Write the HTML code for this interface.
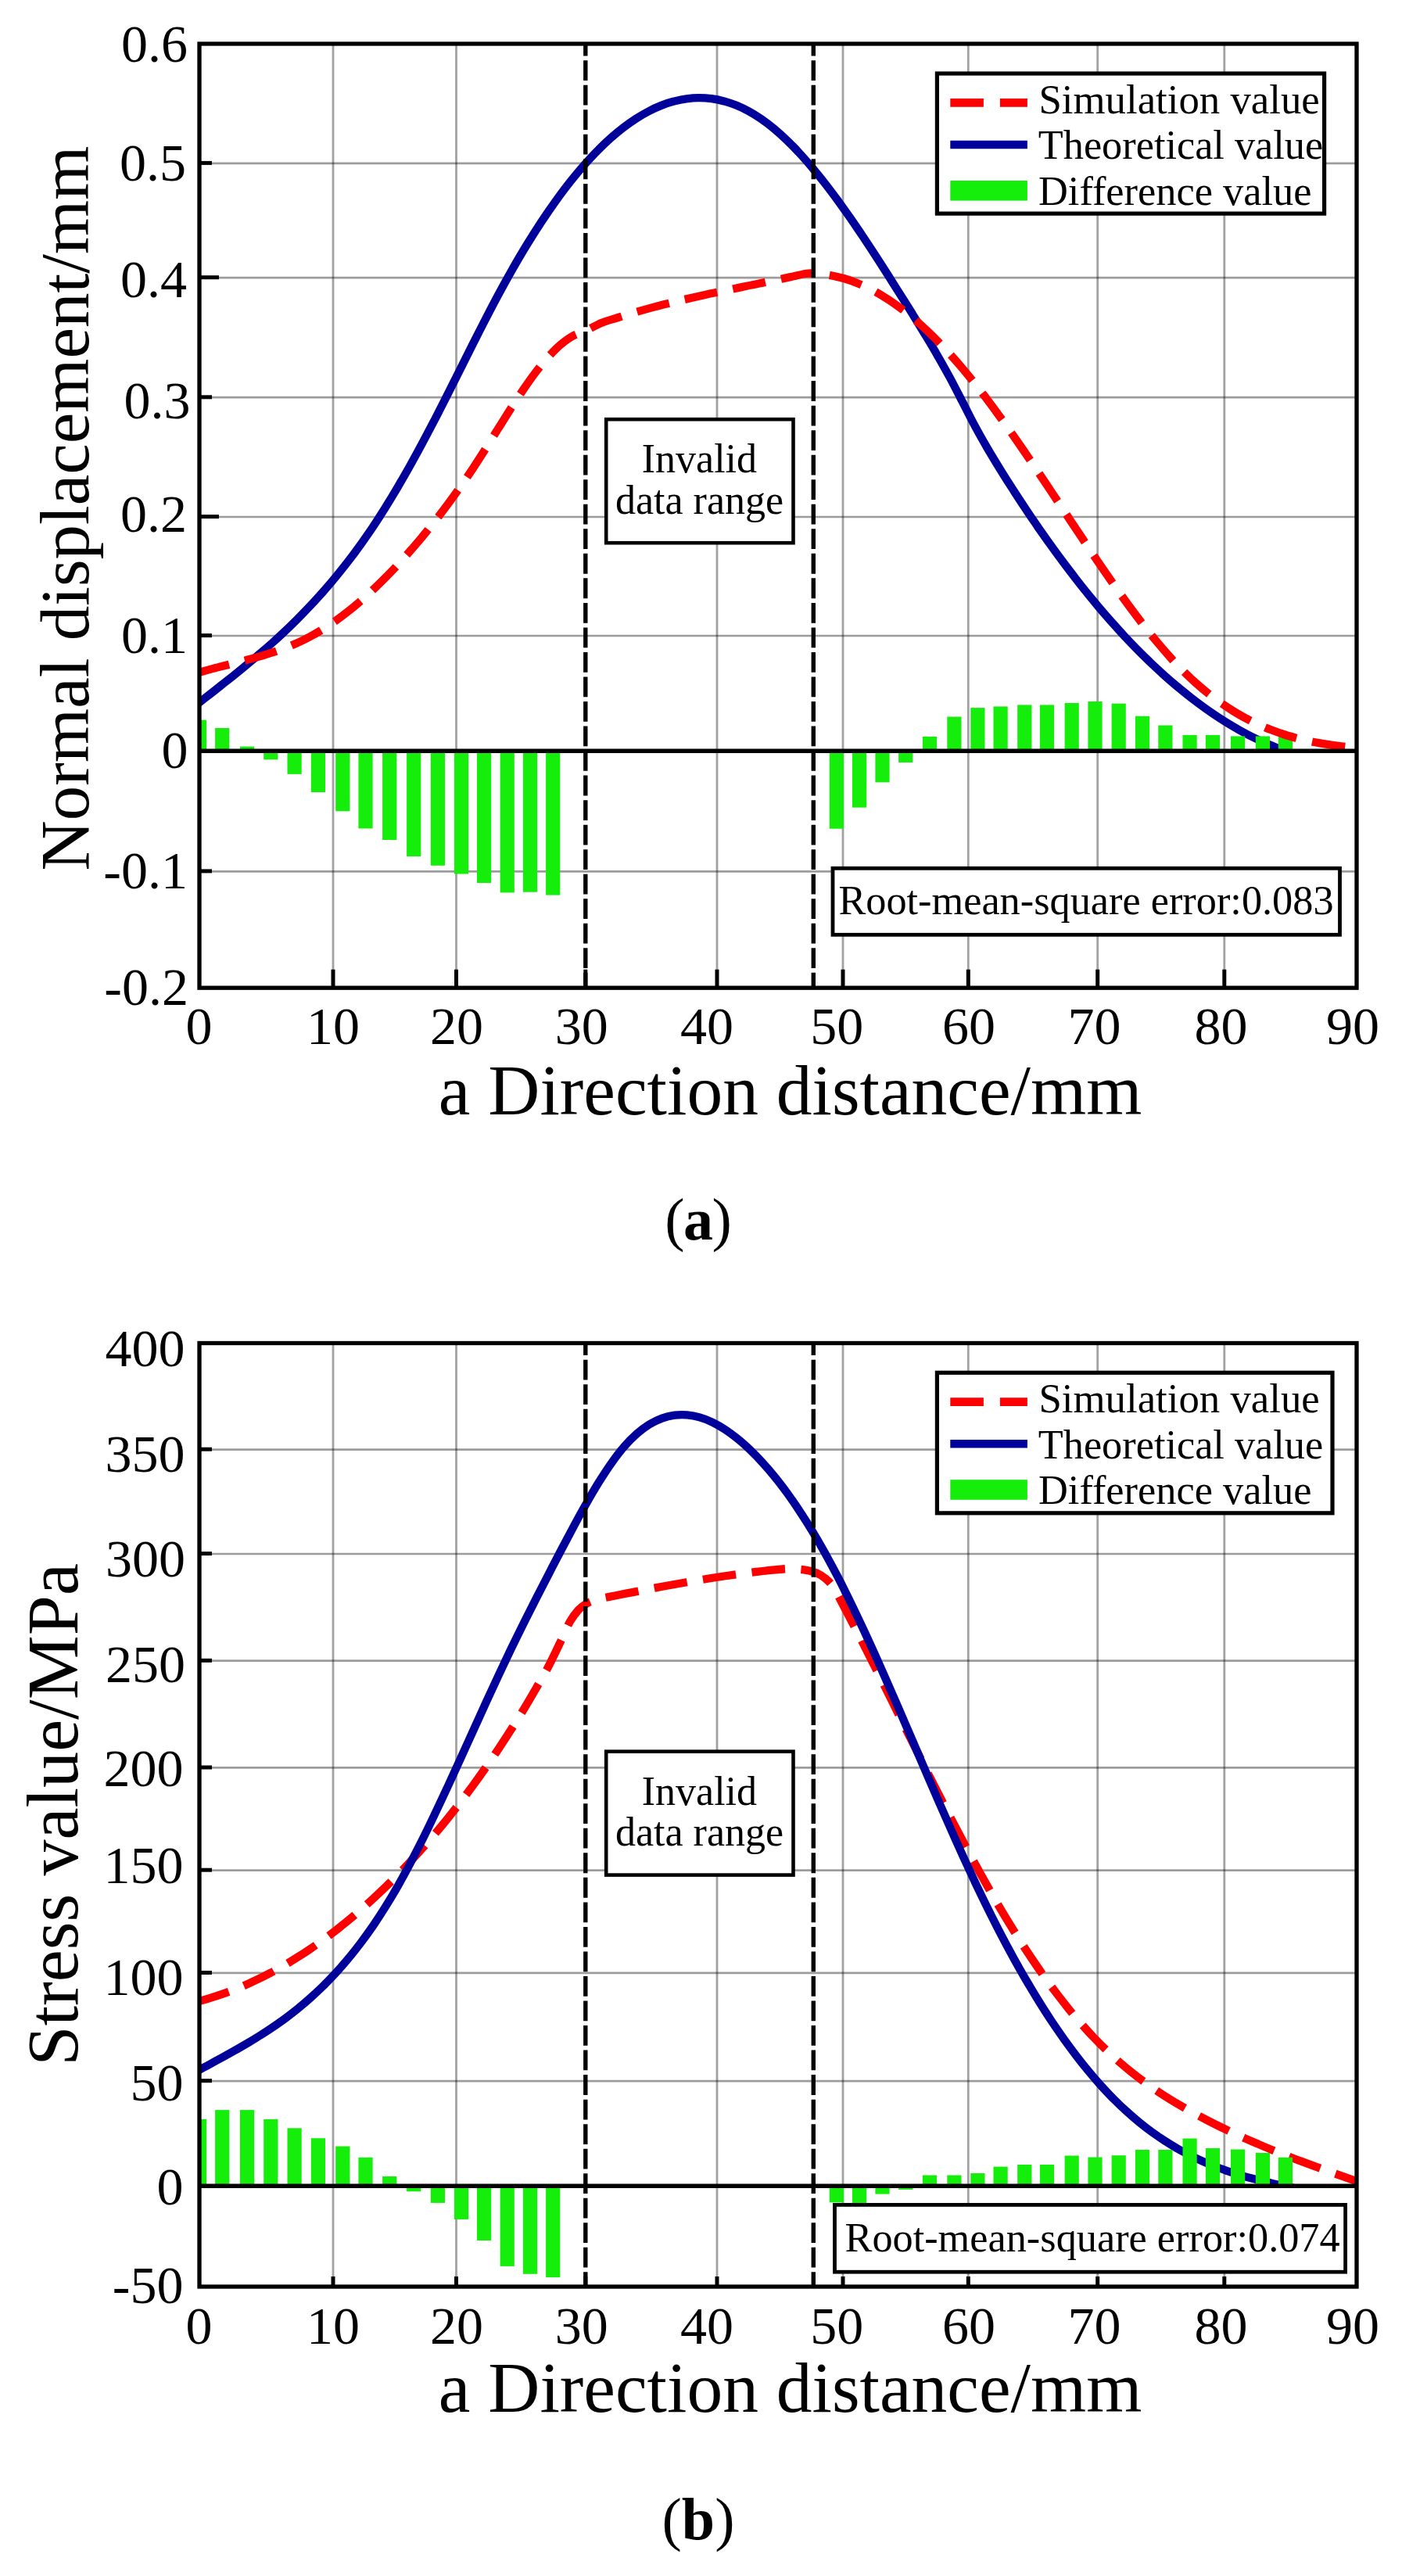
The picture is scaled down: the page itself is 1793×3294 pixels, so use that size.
<!DOCTYPE html>
<html lang="en"><head><meta charset="utf-8"><title>Figure</title>
<style>html,body{margin:0;padding:0;background:#fff}body{width:1793px;height:3294px;overflow:hidden}svg{display:block}text{font-family:'Liberation Serif', serif;fill:#000}</style></head><body>
<svg width="1793" height="3294" viewBox="0 0 1793 3294">
<rect width="1793" height="3294" fill="#fff"/>
<g id="chart1">
<clipPath id="clip0"><rect x="255.0" y="56.0" width="1480.0" height="1207.2"/></clipPath>
<clipPath id="clipb0"><rect x="255.0" y="56.0" width="1480.0" height="904.3"/></clipPath>
<g stroke="#000" stroke-opacity="0.37" stroke-width="2.8" fill="none">
<line x1="426.0" y1="56.0" x2="426.0" y2="1263.2"/>
<line x1="583.5" y1="56.0" x2="583.5" y2="1263.2"/>
<line x1="917.0" y1="56.0" x2="917.0" y2="1263.2"/>
<line x1="1078.0" y1="56.0" x2="1078.0" y2="1263.2"/>
<line x1="1238.3" y1="56.0" x2="1238.3" y2="1263.2"/>
<line x1="1403.7" y1="56.0" x2="1403.7" y2="1263.2"/>
<line x1="1565.8" y1="56.0" x2="1565.8" y2="1263.2"/>
</g><g stroke="#000" stroke-opacity="0.39" stroke-width="2.7" fill="none">
<line x1="255.0" y1="208.8" x2="1735.0" y2="208.8"/>
<line x1="255.0" y1="355.1" x2="1735.0" y2="355.1"/>
<line x1="255.0" y1="508.2" x2="1735.0" y2="508.2"/>
<line x1="255.0" y1="661.0" x2="1735.0" y2="661.0"/>
<line x1="255.0" y1="813.0" x2="1735.0" y2="813.0"/>
<line x1="255.0" y1="1114.3" x2="1735.0" y2="1114.3"/>
</g>
<g clip-path="url(#clip0)" fill="none">
<path d="M252.0 900.6 C254.7 898.5 262.7 892.2 268.0 888.1 C273.4 883.9 278.7 879.7 284.1 875.4 C289.4 871.2 294.8 867.0 300.1 862.7 C305.5 858.3 310.8 854.0 316.2 849.6 C321.5 845.1 326.9 840.6 332.2 836.0 C337.6 831.4 342.9 826.8 348.3 822.0 C353.6 817.2 359.0 812.3 364.3 807.2 C369.7 802.2 375.0 797.0 380.4 791.6 C385.7 786.3 391.1 780.8 396.4 775.1 C401.8 769.4 407.1 763.6 412.5 757.5 C417.8 751.5 423.2 745.3 428.5 738.8 C433.9 732.3 439.2 725.6 444.6 718.7 C449.9 711.8 455.3 704.6 460.6 697.2 C466.0 689.7 471.3 682.0 476.7 674.1 C482.0 666.1 487.3 657.8 492.7 649.2 C498.0 640.7 503.4 631.8 508.7 622.8 C514.1 613.7 519.4 604.3 524.8 594.8 C530.1 585.2 535.5 575.4 540.8 565.4 C546.2 555.4 551.5 545.2 556.9 534.9 C562.2 524.6 567.6 514.0 572.9 503.4 C578.3 492.8 583.6 482.1 589.0 471.4 C594.3 460.8 599.7 450.0 605.0 439.4 C610.4 428.8 615.7 418.2 621.1 407.9 C626.4 397.5 631.8 387.2 637.1 377.3 C642.5 367.3 647.8 357.5 653.2 348.1 C658.5 338.6 663.9 329.4 669.2 320.5 C674.6 311.6 679.9 303.0 685.3 294.6 C690.6 286.3 696.0 278.2 701.3 270.5 C706.7 262.7 712.0 255.2 717.3 248.0 C722.7 240.8 728.0 233.9 733.4 227.3 C738.7 220.7 744.1 214.4 749.4 208.4 C754.8 202.4 760.1 196.7 765.5 191.4 C770.8 186.0 776.2 180.9 781.5 176.2 C786.9 171.4 792.2 167.0 797.6 162.9 C802.9 158.8 808.3 155.0 813.6 151.6 C819.0 148.1 824.3 145.0 829.7 142.2 C835.0 139.4 840.4 137.0 845.7 134.9 C851.1 132.8 856.4 131.0 861.8 129.6 C867.1 128.1 872.5 127.0 877.8 126.3 C883.2 125.6 888.5 125.2 893.9 125.2 C899.2 125.2 904.6 125.5 909.9 126.2 C915.3 126.9 920.6 128.0 926.0 129.4 C931.3 130.9 936.7 132.7 942.0 134.8 C947.3 137.0 952.7 139.6 958.0 142.5 C963.4 145.4 968.7 148.8 974.1 152.5 C979.4 156.2 984.8 160.3 990.1 164.7 C995.5 169.2 1000.8 174.0 1006.2 179.2 C1011.5 184.3 1016.9 189.8 1022.2 195.6 C1027.6 201.4 1032.9 207.5 1038.3 213.8 C1043.6 220.2 1049.0 226.8 1054.3 233.6 C1059.7 240.5 1065.0 247.6 1070.4 254.9 C1075.7 262.2 1081.1 269.7 1086.4 277.3 C1091.8 285.0 1097.1 292.9 1102.5 300.8 C1107.8 308.8 1113.2 316.9 1118.5 325.1 C1123.9 333.4 1129.2 341.7 1134.6 350.1 C1139.9 358.5 1145.3 367.0 1150.6 375.5 C1156.0 384.0 1161.3 392.5 1166.7 401.1 C1172.0 409.7 1177.3 418.3 1182.7 427.2 C1188.0 436.0 1193.4 444.9 1198.7 454.2 C1204.1 463.5 1209.4 473.0 1214.8 482.9 C1220.1 492.8 1225.5 503.4 1230.8 513.7 C1236.2 524.1 1241.5 534.9 1246.9 544.9 C1252.2 554.8 1257.6 564.2 1262.9 573.4 C1268.3 582.6 1273.6 591.3 1279.0 599.9 C1284.3 608.6 1289.7 617.0 1295.0 625.3 C1300.4 633.6 1305.7 641.8 1311.1 649.8 C1316.4 657.9 1321.8 665.7 1327.1 673.5 C1332.5 681.2 1337.8 688.8 1343.2 696.3 C1348.5 703.8 1353.9 711.1 1359.2 718.2 C1364.6 725.4 1369.9 732.4 1375.3 739.3 C1380.6 746.2 1386.0 752.9 1391.3 759.5 C1396.7 766.1 1402.0 772.6 1407.3 778.9 C1412.7 785.2 1418.0 791.3 1423.4 797.3 C1428.7 803.3 1434.1 809.2 1439.4 814.9 C1444.8 820.6 1450.1 826.2 1455.5 831.6 C1460.8 837.0 1466.2 842.2 1471.5 847.4 C1476.9 852.5 1482.2 857.5 1487.6 862.3 C1492.9 867.1 1498.3 871.8 1503.6 876.3 C1509.0 880.8 1514.3 885.2 1519.7 889.4 C1525.0 893.6 1530.4 897.7 1535.7 901.6 C1541.1 905.6 1546.4 909.3 1551.8 913.0 C1557.1 916.6 1562.5 920.1 1567.8 923.4 C1573.2 926.7 1578.5 929.9 1583.9 932.9 C1589.2 935.9 1594.6 938.8 1599.9 941.5 C1605.3 944.2 1610.6 946.7 1616.0 949.1 C1621.3 951.5 1626.3 953.0 1632.0 955.9 C1637.7 958.8 1647.0 964.7 1650.0 966.5" stroke="#00009b" stroke-width="10.3" clip-path="url(#clipb0)"/>
<g fill="#14ee0a"><rect x="245.9" y="920.7" width="18.2" height="39.6"/><rect x="275.1" y="931.0" width="18.2" height="29.3"/><rect x="306.9" y="954.6" width="18.2" height="5.7"/><rect x="337.2" y="960.3" width="18.2" height="11.0"/><rect x="367.5" y="960.3" width="18.2" height="29.6"/><rect x="397.8" y="960.3" width="18.2" height="52.7"/><rect x="429.2" y="960.3" width="18.2" height="77.0"/><rect x="458.4" y="960.3" width="18.2" height="99.1"/><rect x="489.1" y="960.3" width="18.2" height="113.7"/><rect x="520.1" y="960.3" width="18.2" height="134.8"/><rect x="550.8" y="960.3" width="18.2" height="146.5"/><rect x="580.9" y="960.3" width="18.2" height="157.2"/><rect x="610.0" y="960.3" width="18.2" height="168.7"/><rect x="639.6" y="960.3" width="18.2" height="181.1"/><rect x="668.9" y="960.3" width="18.2" height="180.4"/><rect x="698.1" y="960.3" width="18.2" height="184.3"/><rect x="1060.8" y="960.3" width="18.2" height="99.4"/><rect x="1090.0" y="960.3" width="18.2" height="72.3"/><rect x="1119.4" y="960.3" width="18.2" height="40.1"/><rect x="1149.1" y="960.3" width="18.2" height="14.7"/><rect x="1179.9" y="941.9" width="18.2" height="18.4"/><rect x="1211.3" y="916.5" width="18.2" height="43.8"/><rect x="1241.3" y="905.1" width="18.2" height="55.2"/><rect x="1270.5" y="903.4" width="18.2" height="56.9"/><rect x="1301.2" y="901.4" width="18.2" height="58.9"/><rect x="1329.9" y="901.4" width="18.2" height="58.9"/><rect x="1361.6" y="899.0" width="18.2" height="61.3"/><rect x="1391.4" y="897.0" width="18.2" height="63.3"/><rect x="1421.6" y="899.6" width="18.2" height="60.7"/><rect x="1451.9" y="915.7" width="18.2" height="44.6"/><rect x="1481.3" y="927.5" width="18.2" height="32.8"/><rect x="1512.5" y="939.9" width="18.2" height="20.4"/><rect x="1541.9" y="939.9" width="18.2" height="20.4"/><rect x="1574.0" y="941.4" width="18.2" height="18.9"/><rect x="1605.8" y="941.4" width="18.2" height="18.9"/><rect x="1634.8" y="939.9" width="18.2" height="20.4"/></g>
<path d="M252.0 860.6 C254.7 859.9 262.7 857.6 268.0 856.1 C273.4 854.7 278.7 853.3 284.1 852.0 C289.4 850.6 294.7 849.3 300.1 847.9 C305.4 846.6 310.8 845.2 316.1 843.8 C321.4 842.4 326.8 840.9 332.1 839.4 C337.5 837.8 342.8 836.2 348.2 834.4 C353.5 832.6 358.8 830.8 364.2 828.7 C369.5 826.7 374.9 824.5 380.2 822.1 C385.5 819.7 390.9 817.1 396.2 814.2 C401.6 811.4 406.9 808.3 412.3 805.0 C417.6 801.7 422.9 798.2 428.3 794.5 C433.6 790.7 439.0 786.7 444.3 782.5 C449.7 778.3 455.0 773.9 460.3 769.3 C465.7 764.7 471.0 759.9 476.4 754.8 C481.7 749.8 487.0 744.6 492.4 739.2 C497.7 733.8 503.1 728.2 508.4 722.5 C513.8 716.7 519.1 710.8 524.4 704.7 C529.8 698.6 535.1 692.3 540.5 685.9 C545.8 679.4 551.1 672.8 556.5 666.0 C561.8 659.2 567.2 652.2 572.5 645.0 C577.9 637.8 583.2 630.4 588.5 622.8 C593.9 615.2 599.2 607.3 604.6 599.3 C609.9 591.2 615.3 582.9 620.6 574.5 C625.9 566.1 631.3 557.4 636.6 548.9 C642.0 540.4 647.3 531.8 652.6 523.4 C658.0 515.1 663.3 506.8 668.7 499.0 C674.0 491.2 679.4 483.5 684.7 476.5 C690.0 469.5 695.4 462.8 700.7 456.9 C706.1 451.0 711.4 445.5 716.7 440.9 C722.1 436.4 727.4 432.4 732.8 429.5 C738.1 426.5 746.1 424.3 748.8 423.3 C752.1 421.6 762.2 415.9 768.9 413.1 C775.6 410.3 782.3 408.6 789.0 406.5 C795.7 404.3 802.4 402.3 809.1 400.3 C815.8 398.3 822.4 396.5 829.1 394.6 C835.8 392.8 842.5 391.0 849.2 389.3 C855.9 387.6 862.6 386.0 869.3 384.4 C876.0 382.8 882.7 381.3 889.4 379.8 C896.1 378.2 902.8 376.8 909.5 375.3 C916.2 373.9 922.9 372.5 929.6 371.1 C936.3 369.7 943.0 368.3 949.7 366.9 C956.4 365.5 963.0 364.1 969.7 362.8 C976.4 361.4 983.1 360.0 989.8 358.6 C996.5 357.2 1003.2 355.8 1009.9 354.4 C1016.6 353.0 1024.9 350.8 1030.0 350.0 C1035.1 349.2 1037.0 349.5 1040.5 349.6 C1044.0 349.7 1047.1 349.9 1051.0 350.4 C1054.9 350.9 1059.2 351.6 1064.0 352.5 C1068.8 353.5 1074.7 354.8 1080.0 356.3 C1085.4 357.9 1090.7 359.7 1096.1 361.9 C1101.4 364.0 1106.8 366.4 1112.1 369.1 C1117.5 371.8 1122.8 374.8 1128.2 378.1 C1133.5 381.3 1138.9 384.8 1144.2 388.6 C1149.6 392.4 1154.9 396.4 1160.3 400.7 C1165.6 405.0 1171.0 409.5 1176.3 414.3 C1181.7 419.1 1187.0 424.1 1192.4 429.4 C1197.7 434.6 1203.1 440.1 1208.4 445.8 C1213.8 451.6 1219.1 457.5 1224.5 463.7 C1229.8 469.8 1235.2 476.2 1240.5 482.8 C1245.9 489.4 1251.2 496.2 1256.6 503.1 C1261.9 510.1 1267.3 517.2 1272.6 524.5 C1278.0 531.8 1283.3 539.2 1288.7 546.8 C1294.0 554.3 1299.4 562.0 1304.7 569.7 C1310.1 577.5 1315.4 585.3 1320.8 593.3 C1326.1 601.2 1331.5 609.2 1336.8 617.2 C1342.2 625.2 1347.5 633.3 1352.9 641.3 C1358.2 649.4 1363.6 657.5 1368.9 665.6 C1374.3 673.6 1379.6 681.7 1385.0 689.7 C1390.3 697.7 1395.7 705.7 1401.0 713.6 C1406.4 721.5 1411.7 729.3 1417.1 737.0 C1422.4 744.8 1427.8 752.4 1433.1 759.9 C1438.5 767.4 1443.8 774.7 1449.2 781.9 C1454.5 789.1 1459.9 796.1 1465.2 802.9 C1470.6 809.8 1475.9 816.4 1481.3 822.8 C1486.6 829.2 1492.0 835.4 1497.3 841.3 C1502.7 847.2 1508.0 852.8 1513.4 858.2 C1518.7 863.6 1524.1 868.6 1529.4 873.4 C1534.8 878.2 1540.1 882.7 1545.5 887.0 C1550.8 891.2 1556.2 895.2 1561.5 899.0 C1566.9 902.7 1572.2 906.2 1577.6 909.5 C1582.9 912.8 1588.3 915.8 1593.6 918.7 C1599.0 921.5 1604.3 924.2 1609.7 926.6 C1615.0 929.0 1620.4 931.3 1625.7 933.3 C1631.1 935.4 1636.4 937.3 1641.8 939.0 C1647.1 940.8 1652.5 942.3 1657.8 943.8 C1663.2 945.2 1668.5 946.5 1673.9 947.6 C1679.2 948.8 1684.6 949.8 1689.9 950.7 C1695.3 951.7 1700.6 952.5 1706.0 953.2 C1711.3 953.9 1719.3 954.7 1722.0 955.1" stroke="#ff0000" stroke-width="10.3" stroke-dasharray="42.5 20.5"/>
</g>
<line x1="255.0" y1="960.3" x2="1735.0" y2="960.3" stroke="#000" stroke-width="5.5"/>
<line x1="748.8" y1="56.0" x2="748.8" y2="1263.2" stroke="#000" stroke-width="5.4" stroke-dasharray="25.8 5.73" stroke-dashoffset="10.3"/>
<line x1="1040.3" y1="56.0" x2="1040.3" y2="1263.2" stroke="#000" stroke-width="5.4" stroke-dasharray="25.8 5.73" stroke-dashoffset="10.3"/>
<g stroke="#000" stroke-width="5">
<line x1="426.0" y1="1263.2" x2="426.0" y2="1239.7"/>
<line x1="583.5" y1="1263.2" x2="583.5" y2="1239.7"/>
<line x1="748.8" y1="1263.2" x2="748.8" y2="1239.7"/>
<line x1="917.0" y1="1263.2" x2="917.0" y2="1239.7"/>
<line x1="1078.0" y1="1263.2" x2="1078.0" y2="1239.7"/>
<line x1="1238.3" y1="1263.2" x2="1238.3" y2="1239.7"/>
<line x1="1403.7" y1="1263.2" x2="1403.7" y2="1239.7"/>
<line x1="1565.8" y1="1263.2" x2="1565.8" y2="1239.7"/>
<line x1="255.0" y1="208.4" x2="271.0" y2="208.4"/>
<line x1="255.0" y1="354.7" x2="280.0" y2="354.7"/>
<line x1="255.0" y1="507.8" x2="271.0" y2="507.8"/>
<line x1="255.0" y1="660.6" x2="280.0" y2="660.6"/>
<line x1="255.0" y1="812.6" x2="271.0" y2="812.6"/>
<line x1="255.0" y1="1113.9" x2="271.0" y2="1113.9"/>
</g>
<rect x="255.0" y="56.0" width="1480.0" height="1207.2" fill="none" stroke="#000" stroke-width="5.3"/>
<rect x="1198.4" y="94.0" width="495.2" height="179.1" fill="#fff" stroke="#000" stroke-width="5.2"/>
<line x1="1215.3" y1="131.4" x2="1313.9" y2="131.4" stroke="#ff0000" stroke-width="10.8" stroke-dasharray="42.6 21"/>
<line x1="1215.3" y1="185.1" x2="1313.9" y2="185.1" stroke="#00009b" stroke-width="10.5"/>
<rect x="1215.3" y="231.0" width="98.6" height="25.6" fill="#14ee0a"/>
<text x="1328.5" y="144.6" font-size="52.8">Simulation value</text>
<text x="1327.8" y="203.3" font-size="52.3">Theoretical value</text>
<text x="1328" y="262.2" font-size="52.4">Difference value</text>
<rect x="775.2" y="536.2" width="239.3" height="158.0" fill="#fff" stroke="#000" stroke-width="4.6"/>
<g font-size="52" text-anchor="middle"><text x="894.4" y="604.4">Invalid</text><text x="894.5" y="656.7">data range</text></g>
<rect x="1065.0" y="1110.3" width="648.5" height="85.0" fill="#fff" stroke="#000" stroke-width="4.8"/>
<text x="1072.4" y="1168.8" font-size="52.3">Root-mean-square error:0.083</text>
<g font-size="68">
<g text-anchor="end">
<text x="240.0" y="79.0">0.6</text>
<text x="238.0" y="231.3">0.5</text>
<text x="239.0" y="379.5">0.4</text>
<text x="243.5" y="535.0">0.3</text>
<text x="239.0" y="679.5">0.2</text>
<text x="240.0" y="834.5">0.1</text>
<text x="240.5" y="982.3">0</text>
<text x="240.0" y="1136.0">-0.1</text>
<text x="241.0" y="1285.3">-0.2</text>
</g><g text-anchor="middle">
<text x="254.5" y="1334.6">0</text>
<text x="426.1" y="1334.6">10</text>
<text x="584.0" y="1334.6">20</text>
<text x="743.8" y="1334.6">30</text>
<text x="904.0" y="1334.6">40</text>
<text x="1070.3" y="1334.6">50</text>
<text x="1238.9" y="1334.6">60</text>
<text x="1399.5" y="1334.6">70</text>
<text x="1561.5" y="1334.6">80</text>
<text x="1730.0" y="1334.6">90</text>
</g></g>
<text transform="translate(113.0 650.0) rotate(-90)" text-anchor="middle" font-size="89.0">Normal displacement/mm</text>
<text x="1010.6" y="1424.8" text-anchor="middle" font-size="91.5">a Direction distance/mm</text>
<text x="893.0" y="1584.5" text-anchor="middle" font-size="76">(<tspan font-weight="bold" dx="-1.6">a</tspan><tspan dx="-1.6">)</tspan></text>
</g>
<g id="chart2">
<clipPath id="clip1"><rect x="255.0" y="1717.5" width="1480.0" height="1206.5"/></clipPath>
<clipPath id="clipb1"><rect x="255.0" y="1717.5" width="1480.0" height="1077.7"/></clipPath>
<g stroke="#000" stroke-opacity="0.37" stroke-width="2.8" fill="none">
<line x1="426.0" y1="1717.5" x2="426.0" y2="2924.0"/>
<line x1="583.5" y1="1717.5" x2="583.5" y2="2924.0"/>
<line x1="917.0" y1="1717.5" x2="917.0" y2="2924.0"/>
<line x1="1078.0" y1="1717.5" x2="1078.0" y2="2924.0"/>
<line x1="1238.3" y1="1717.5" x2="1238.3" y2="2924.0"/>
<line x1="1403.7" y1="1717.5" x2="1403.7" y2="2924.0"/>
<line x1="1565.8" y1="1717.5" x2="1565.8" y2="2924.0"/>
</g><g stroke="#000" stroke-opacity="0.39" stroke-width="2.7" fill="none">
<line x1="255.0" y1="1853.6" x2="1735.0" y2="1853.6"/>
<line x1="255.0" y1="1987.0" x2="1735.0" y2="1987.0"/>
<line x1="255.0" y1="2123.7" x2="1735.0" y2="2123.7"/>
<line x1="255.0" y1="2260.4" x2="1735.0" y2="2260.4"/>
<line x1="255.0" y1="2391.6" x2="1735.0" y2="2391.6"/>
<line x1="255.0" y1="2522.9" x2="1735.0" y2="2522.9"/>
<line x1="255.0" y1="2661.1" x2="1735.0" y2="2661.1"/>
</g>
<g clip-path="url(#clip1)" fill="none">
<path d="M252.0 2559.6 C254.7 2558.9 262.7 2556.8 268.1 2555.1 C273.4 2553.5 278.8 2551.8 284.2 2549.9 C289.5 2548.0 294.9 2546.0 300.2 2543.9 C305.6 2541.8 311.0 2539.5 316.3 2537.2 C321.7 2534.8 327.0 2532.3 332.4 2529.7 C337.8 2527.1 343.1 2524.3 348.5 2521.5 C353.8 2518.6 359.2 2515.6 364.6 2512.5 C369.9 2509.4 375.3 2506.1 380.6 2502.7 C386.0 2499.4 391.4 2495.9 396.7 2492.2 C402.1 2488.6 407.4 2484.8 412.8 2481.0 C418.2 2477.1 423.5 2473.0 428.9 2468.9 C434.2 2464.7 439.6 2460.5 445.0 2456.1 C450.3 2451.6 455.7 2447.1 461.0 2442.4 C466.4 2437.8 471.8 2432.9 477.1 2428.0 C482.5 2423.1 487.8 2418.0 493.2 2412.8 C498.5 2407.6 503.9 2402.3 509.3 2396.8 C514.6 2391.3 520.0 2385.7 525.3 2379.9 C530.7 2374.1 536.1 2368.2 541.4 2362.2 C546.8 2356.1 552.1 2349.9 557.5 2343.5 C562.9 2337.2 568.2 2330.7 573.6 2324.0 C578.9 2317.3 584.3 2310.5 589.7 2303.4 C595.0 2296.4 600.4 2289.3 605.7 2281.9 C611.1 2274.6 616.5 2267.1 621.8 2259.4 C627.2 2251.7 632.5 2243.9 637.9 2235.8 C643.3 2227.8 648.6 2219.6 654.0 2211.1 C659.3 2202.7 664.7 2194.1 670.1 2185.3 C675.4 2176.4 680.8 2167.3 686.1 2158.0 C691.5 2148.7 696.9 2139.7 702.2 2129.4 C707.6 2119.1 713.8 2105.6 718.3 2096.3 C722.8 2087.0 725.4 2079.8 729.0 2073.5 C732.6 2067.2 736.4 2062.5 739.7 2058.8 C743.0 2055.1 745.8 2053.3 748.7 2051.4 C751.6 2049.5 753.8 2048.5 757.0 2047.3 C760.2 2046.1 762.9 2045.4 768.0 2044.2 C773.1 2043.0 781.2 2041.6 787.7 2040.3 C794.3 2038.9 800.9 2037.6 807.5 2036.4 C814.1 2035.1 820.6 2033.8 827.2 2032.5 C833.8 2031.3 840.4 2030.0 847.0 2028.8 C853.5 2027.6 860.1 2026.4 866.7 2025.2 C873.3 2024.1 879.9 2022.9 886.5 2021.8 C893.0 2020.7 899.6 2019.6 906.2 2018.5 C912.8 2017.5 919.4 2016.5 925.9 2015.5 C932.5 2014.5 939.1 2013.6 945.7 2012.7 C952.3 2011.8 958.8 2011.0 965.4 2010.2 C972.0 2009.4 978.6 2008.5 985.2 2007.9 C991.7 2007.2 999.6 2006.5 1004.9 2006.2 C1010.2 2005.9 1013.1 2006.1 1017.0 2006.3 C1020.9 2006.5 1024.5 2006.7 1028.4 2007.3 C1032.3 2007.9 1036.6 2008.8 1040.2 2010.0 C1043.8 2011.2 1046.4 2012.1 1049.8 2014.3 C1053.2 2016.5 1057.5 2019.8 1060.5 2022.9 C1063.5 2026.0 1065.4 2028.8 1068.0 2033.0 C1070.6 2037.2 1072.0 2040.5 1076.0 2048.1 C1080.0 2055.7 1086.8 2068.5 1092.1 2078.9 C1097.5 2089.3 1102.9 2099.8 1108.3 2110.4 C1113.7 2121.0 1119.1 2131.7 1124.4 2142.4 C1129.8 2153.1 1135.2 2164.0 1140.6 2174.8 C1146.0 2185.6 1151.3 2196.5 1156.7 2207.3 C1162.1 2218.1 1167.5 2229.0 1172.9 2239.8 C1178.3 2250.6 1183.6 2261.4 1189.0 2272.1 C1194.4 2282.8 1199.8 2293.4 1205.2 2303.9 C1210.6 2314.5 1215.9 2324.9 1221.3 2335.2 C1226.7 2345.5 1232.1 2355.8 1237.5 2365.8 C1242.8 2375.8 1248.2 2385.8 1253.6 2395.5 C1259.0 2405.2 1264.4 2414.8 1269.8 2424.1 C1275.1 2433.5 1280.5 2442.6 1285.9 2451.6 C1291.3 2460.5 1296.7 2469.2 1302.0 2477.7 C1307.4 2486.2 1312.8 2494.5 1318.2 2502.5 C1323.6 2510.6 1329.0 2518.4 1334.3 2526.0 C1339.7 2533.6 1345.1 2540.9 1350.5 2548.0 C1355.9 2555.1 1361.3 2562.0 1366.6 2568.7 C1372.0 2575.3 1377.4 2581.7 1382.8 2587.8 C1388.2 2594.0 1393.5 2599.9 1398.9 2605.5 C1404.3 2611.2 1409.7 2616.6 1415.1 2621.7 C1420.5 2626.9 1425.8 2631.8 1431.2 2636.5 C1436.6 2641.2 1442.0 2645.7 1447.4 2650.0 C1452.7 2654.3 1458.1 2658.4 1463.5 2662.3 C1468.9 2666.3 1474.3 2670.0 1479.7 2673.7 C1485.0 2677.3 1490.4 2680.8 1495.8 2684.1 C1501.2 2687.5 1506.6 2690.7 1512.0 2693.8 C1517.3 2696.9 1522.7 2699.9 1528.1 2702.8 C1533.5 2705.8 1538.9 2708.6 1544.2 2711.4 C1549.6 2714.2 1555.0 2716.9 1560.4 2719.5 C1565.8 2722.1 1571.2 2724.7 1576.5 2727.2 C1581.9 2729.7 1587.3 2732.2 1592.7 2734.6 C1598.1 2737.0 1603.4 2739.3 1608.8 2741.6 C1614.2 2743.9 1619.6 2746.2 1625.0 2748.4 C1630.4 2750.6 1635.7 2752.8 1641.1 2754.9 C1646.5 2757.0 1651.9 2759.1 1657.3 2761.2 C1662.7 2763.2 1668.0 2765.2 1673.4 2767.2 C1678.8 2769.2 1684.2 2771.2 1689.6 2773.1 C1694.9 2775.1 1700.3 2777.0 1705.7 2778.9 C1711.1 2780.8 1716.5 2782.7 1721.9 2784.6 C1727.2 2786.5 1735.3 2789.3 1738.0 2790.2" stroke="#ff0000" stroke-width="10.3" stroke-dasharray="42.6 20.6"/>
<path d="M252.0 2648.4 C254.7 2647.0 262.7 2642.6 268.1 2639.7 C273.4 2636.8 278.8 2633.9 284.1 2631.0 C289.5 2628.1 294.9 2625.1 300.2 2622.1 C305.6 2619.1 310.9 2616.0 316.3 2612.8 C321.6 2609.6 327.0 2606.4 332.3 2603.0 C337.7 2599.6 343.1 2596.2 348.4 2592.5 C353.8 2588.9 359.1 2585.1 364.5 2581.2 C369.8 2577.2 375.2 2573.1 380.6 2568.7 C385.9 2564.4 391.3 2559.9 396.6 2555.1 C402.0 2550.3 407.3 2545.4 412.7 2540.1 C418.1 2534.8 423.4 2529.3 428.8 2523.5 C434.1 2517.7 439.5 2511.6 444.8 2505.2 C450.2 2498.8 455.6 2492.1 460.9 2485.0 C466.3 2477.9 471.6 2470.5 477.0 2462.7 C482.3 2454.9 487.7 2446.7 493.0 2438.1 C498.4 2429.5 503.8 2420.6 509.1 2411.2 C514.5 2401.8 519.8 2391.9 525.2 2381.7 C530.5 2371.6 535.9 2361.0 541.3 2350.3 C546.6 2339.5 552.0 2328.4 557.3 2317.1 C562.7 2305.9 568.0 2294.4 573.4 2282.8 C578.8 2271.2 584.1 2259.5 589.5 2247.7 C594.8 2235.9 600.2 2224.1 605.5 2212.3 C610.9 2200.5 616.2 2188.6 621.6 2176.9 C627.0 2165.2 632.3 2153.6 637.7 2142.1 C643.0 2130.7 648.4 2119.4 653.7 2108.3 C659.1 2097.2 664.5 2086.3 669.8 2075.5 C675.2 2064.7 680.5 2054.1 685.9 2043.6 C691.2 2033.1 696.6 2022.7 702.0 2012.3 C707.3 2002.0 712.7 1991.7 718.0 1981.5 C723.4 1971.3 728.7 1961.1 734.1 1951.1 C739.4 1941.2 744.8 1931.3 750.2 1922.0 C755.5 1912.6 760.9 1903.3 766.2 1894.8 C771.6 1886.2 776.9 1877.9 782.3 1870.4 C787.7 1862.9 793.0 1855.9 798.4 1849.7 C803.7 1843.5 809.1 1838.1 814.4 1833.4 C819.8 1828.7 825.2 1824.7 830.5 1821.4 C835.9 1818.1 841.2 1815.6 846.6 1813.6 C851.9 1811.6 857.3 1810.4 862.7 1809.7 C868.0 1808.9 873.4 1808.9 878.7 1809.3 C884.1 1809.8 889.4 1810.8 894.8 1812.4 C900.1 1813.9 905.5 1816.0 910.9 1818.6 C916.2 1821.2 921.6 1824.2 926.9 1827.7 C932.3 1831.2 937.6 1835.2 943.0 1839.5 C948.4 1843.8 953.7 1848.6 959.1 1853.7 C964.4 1858.8 969.8 1864.3 975.1 1870.2 C980.5 1876.1 985.9 1882.3 991.2 1889.0 C996.6 1895.6 1001.9 1902.6 1007.3 1910.0 C1012.6 1917.4 1018.0 1925.2 1023.3 1933.4 C1028.7 1941.5 1034.1 1950.0 1039.4 1958.9 C1044.8 1967.8 1050.1 1977.1 1055.5 1986.7 C1060.8 1996.3 1066.2 2006.4 1071.6 2016.7 C1076.9 2027.0 1082.3 2037.8 1087.6 2048.7 C1093.0 2059.7 1098.3 2071.0 1103.7 2082.5 C1109.1 2094.0 1114.4 2105.8 1119.8 2117.7 C1125.1 2129.6 1130.5 2141.8 1135.8 2153.9 C1141.2 2166.1 1146.6 2178.5 1151.9 2190.8 C1157.3 2203.2 1162.6 2215.7 1168.0 2228.1 C1173.3 2240.6 1178.7 2253.1 1184.0 2265.5 C1189.4 2277.9 1194.8 2290.4 1200.1 2302.7 C1205.5 2315.0 1210.8 2327.2 1216.2 2339.3 C1221.5 2351.4 1226.9 2363.3 1232.3 2375.1 C1237.6 2386.8 1243.0 2398.4 1248.3 2409.7 C1253.7 2421.0 1259.0 2432.0 1264.4 2442.8 C1269.8 2453.6 1275.1 2464.1 1280.5 2474.4 C1285.8 2484.6 1291.2 2494.6 1296.5 2504.2 C1301.9 2513.9 1307.2 2523.4 1312.6 2532.5 C1318.0 2541.7 1323.3 2550.5 1328.7 2559.2 C1334.0 2567.8 1339.4 2576.1 1344.7 2584.2 C1350.1 2592.2 1355.5 2600.0 1360.8 2607.6 C1366.2 2615.1 1371.5 2622.3 1376.9 2629.3 C1382.2 2636.3 1387.6 2643.0 1393.0 2649.5 C1398.3 2655.9 1403.7 2662.1 1409.0 2668.0 C1414.4 2673.9 1419.7 2679.6 1425.1 2684.9 C1430.4 2690.3 1435.8 2695.4 1441.2 2700.2 C1446.5 2705.1 1451.9 2709.7 1457.2 2714.0 C1462.6 2718.4 1467.9 2722.5 1473.3 2726.4 C1478.7 2730.3 1484.0 2733.9 1489.4 2737.4 C1494.7 2740.8 1500.1 2744.1 1505.4 2747.2 C1510.8 2750.2 1516.2 2753.1 1521.5 2755.8 C1526.9 2758.6 1532.2 2761.1 1537.6 2763.5 C1542.9 2765.9 1548.3 2768.1 1553.7 2770.2 C1559.0 2772.3 1564.4 2774.2 1569.7 2776.1 C1575.1 2777.9 1580.4 2779.6 1585.8 2781.3 C1591.1 2782.9 1596.5 2784.4 1601.9 2785.8 C1607.2 2787.2 1612.6 2788.6 1617.9 2789.8 C1623.3 2791.1 1627.8 2792.1 1634.0 2793.5 C1640.2 2794.8 1651.5 2797.2 1655.0 2798.0" stroke="#00009b" stroke-width="10.3" clip-path="url(#clipb1)"/>
<g fill="#14ee0a"><rect x="245.9" y="2709.9" width="18.2" height="85.3"/><rect x="275.1" y="2698.1" width="18.2" height="97.1"/><rect x="306.9" y="2698.1" width="18.2" height="97.1"/><rect x="337.2" y="2709.9" width="18.2" height="85.3"/><rect x="367.5" y="2721.3" width="18.2" height="73.9"/><rect x="397.8" y="2734.2" width="18.2" height="61.0"/><rect x="429.2" y="2744.5" width="18.2" height="50.7"/><rect x="458.4" y="2758.8" width="18.2" height="36.4"/><rect x="489.1" y="2783.0" width="18.2" height="12.2"/><rect x="520.1" y="2795.2" width="18.2" height="7.1"/><rect x="550.8" y="2795.2" width="18.2" height="21.7"/><rect x="580.9" y="2795.2" width="18.2" height="42.7"/><rect x="610.0" y="2795.2" width="18.2" height="69.8"/><rect x="639.6" y="2795.2" width="18.2" height="102.7"/><rect x="668.9" y="2795.2" width="18.2" height="112.6"/><rect x="698.1" y="2795.2" width="18.2" height="116.9"/><rect x="1060.8" y="2795.2" width="18.2" height="21.2"/><rect x="1090.0" y="2795.2" width="18.2" height="21.8"/><rect x="1119.4" y="2795.2" width="18.2" height="10.4"/><rect x="1149.1" y="2795.2" width="18.2" height="4.7"/><rect x="1179.9" y="2781.5" width="18.2" height="13.7"/><rect x="1211.3" y="2781.5" width="18.2" height="13.7"/><rect x="1241.3" y="2779.0" width="18.2" height="16.2"/><rect x="1270.5" y="2770.6" width="18.2" height="24.6"/><rect x="1301.2" y="2768.0" width="18.2" height="27.2"/><rect x="1329.9" y="2768.0" width="18.2" height="27.2"/><rect x="1361.6" y="2756.5" width="18.2" height="38.7"/><rect x="1391.4" y="2758.5" width="18.2" height="36.7"/><rect x="1421.6" y="2756.2" width="18.2" height="39.0"/><rect x="1451.9" y="2749.0" width="18.2" height="46.2"/><rect x="1481.3" y="2749.0" width="18.2" height="46.2"/><rect x="1512.5" y="2734.5" width="18.2" height="60.7"/><rect x="1541.9" y="2747.0" width="18.2" height="48.2"/><rect x="1574.0" y="2748.5" width="18.2" height="46.7"/><rect x="1605.8" y="2753.0" width="18.2" height="42.2"/><rect x="1634.8" y="2758.8" width="18.2" height="36.4"/></g>
</g>
<line x1="255.0" y1="2795.2" x2="1735.0" y2="2795.2" stroke="#000" stroke-width="5.5"/>
<line x1="748.8" y1="1717.5" x2="748.8" y2="2924.0" stroke="#000" stroke-width="5.4" stroke-dasharray="25.8 5.73" stroke-dashoffset="10.3"/>
<line x1="1040.3" y1="1717.5" x2="1040.3" y2="2924.0" stroke="#000" stroke-width="5.4" stroke-dasharray="25.8 5.73" stroke-dashoffset="10.3"/>
<g stroke="#000" stroke-width="5">
<line x1="426.0" y1="2924.0" x2="426.0" y2="2911.0"/>
<line x1="583.5" y1="2924.0" x2="583.5" y2="2911.0"/>
<line x1="748.8" y1="2924.0" x2="748.8" y2="2911.0"/>
<line x1="917.0" y1="2924.0" x2="917.0" y2="2911.0"/>
<line x1="1078.0" y1="2924.0" x2="1078.0" y2="2911.0"/>
<line x1="1238.3" y1="2924.0" x2="1238.3" y2="2911.0"/>
<line x1="1403.7" y1="2924.0" x2="1403.7" y2="2911.0"/>
<line x1="1565.8" y1="2924.0" x2="1565.8" y2="2911.0"/>
<line x1="255.0" y1="1853.2" x2="271.0" y2="1853.2"/>
<line x1="255.0" y1="1986.6" x2="271.0" y2="1986.6"/>
<line x1="255.0" y1="2123.3" x2="271.0" y2="2123.3"/>
<line x1="255.0" y1="2260.0" x2="271.0" y2="2260.0"/>
<line x1="255.0" y1="2391.2" x2="271.0" y2="2391.2"/>
<line x1="255.0" y1="2522.5" x2="271.0" y2="2522.5"/>
<line x1="255.0" y1="2660.7" x2="271.0" y2="2660.7"/>
</g>
<rect x="255.0" y="1717.5" width="1480.0" height="1206.5" fill="none" stroke="#000" stroke-width="5.3"/>
<rect x="1198.4" y="1755.3" width="505.6" height="179.5" fill="#fff" stroke="#000" stroke-width="5.2"/>
<line x1="1215.3" y1="1792.6" x2="1313.9" y2="1792.6" stroke="#ff0000" stroke-width="10.8" stroke-dasharray="42.6 21"/>
<line x1="1215.3" y1="1846.3" x2="1313.9" y2="1846.3" stroke="#00009b" stroke-width="10.5"/>
<rect x="1215.3" y="1892.2" width="98.6" height="25.6" fill="#14ee0a"/>
<text x="1328.5" y="1805.8" font-size="52.8">Simulation value</text>
<text x="1327.8" y="1864.5" font-size="52.3">Theoretical value</text>
<text x="1328" y="1923.4" font-size="52.4">Difference value</text>
<rect x="775.2" y="2239.7" width="239.3" height="157.9" fill="#fff" stroke="#000" stroke-width="4.6"/>
<g font-size="52" text-anchor="middle"><text x="894.4" y="2307.9">Invalid</text><text x="894.5" y="2360.2">data range</text></g>
<rect x="1067.5" y="2819.4" width="653.1" height="85.8" fill="#fff" stroke="#000" stroke-width="4.8"/>
<text x="1080.5" y="2878.6" font-size="52.3">Root-mean-square error:0.074</text>
<g font-size="68">
<g text-anchor="end">
<text x="236.5" y="1747.3">400</text>
<text x="236.5" y="1881.8">350</text>
<text x="237.0" y="2015.5">300</text>
<text x="237.0" y="2151.0">250</text>
<text x="234.5" y="2284.0">200</text>
<text x="234.5" y="2408.4">150</text>
<text x="234.5" y="2551.0">100</text>
<text x="234.5" y="2685.7">50</text>
<text x="234.5" y="2819.0">0</text>
<text x="234.5" y="2945.2">-50</text>
</g><g text-anchor="middle">
<text x="254.5" y="2997.0">0</text>
<text x="426.1" y="2997.0">10</text>
<text x="584.0" y="2997.0">20</text>
<text x="743.8" y="2997.0">30</text>
<text x="904.0" y="2997.0">40</text>
<text x="1070.3" y="2997.0">50</text>
<text x="1238.9" y="2997.0">60</text>
<text x="1399.5" y="2997.0">70</text>
<text x="1561.5" y="2997.0">80</text>
<text x="1730.0" y="2997.0">90</text>
</g></g>
<text transform="translate(99.4 2320.5) rotate(-90)" text-anchor="middle" font-size="92.2">Stress value/MPa</text>
<text x="1010.6" y="3083.5" text-anchor="middle" font-size="91.5">a Direction distance/mm</text>
<text x="893.0" y="3246.5" text-anchor="middle" font-size="76">(<tspan font-weight="bold" dx="0.0">b</tspan><tspan dx="0.0">)</tspan></text>
</g>
</svg></body></html>
